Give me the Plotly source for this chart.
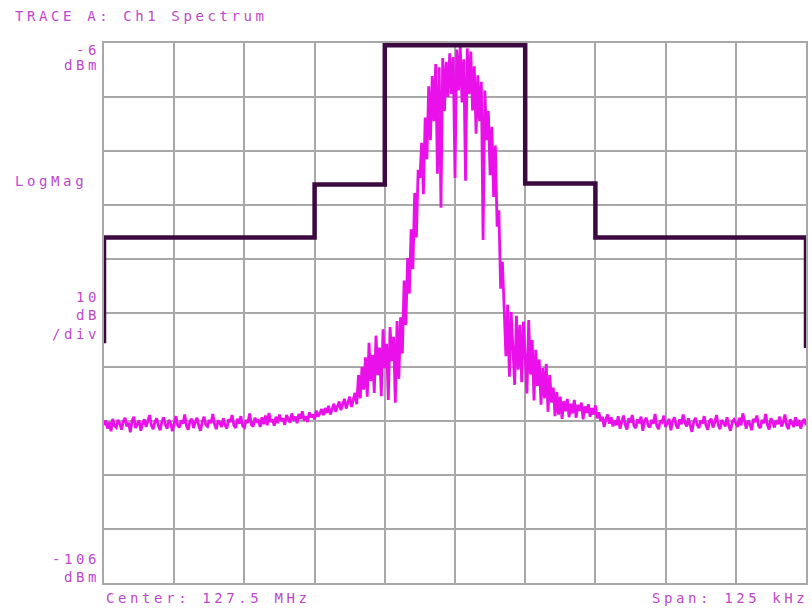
import numpy as np
import plotly.graph_objects as go

# ---------------- data ----------------
CENTER_MHZ = 127.5
SPAN_KHZ = 125.0
REF_LEVEL_DBM = -6
BOTTOM_LEVEL_DBM = -106
DB_PER_DIV = 10

# measured trace (dBm), 401 points across the span
floor_left = [
    -76.8, -75.9, -77.4, -76.2, -77.9, -75.6, -76.9, -77.2, -75.8, -76.5,
    -77.6, -76.1, -75.4, -77.0, -76.3, -78.1, -76.0, -75.2, -77.3, -76.6,
    -75.9, -77.8, -76.4, -75.7, -77.1, -76.0, -74.9, -76.8, -77.5, -76.2,
    -75.5, -76.9, -77.7, -76.1, -75.3, -76.7, -77.4, -75.8, -76.4, -77.9,
    -76.3, -75.1, -76.8, -77.2, -75.9, -76.5, -74.8, -76.9, -77.6, -76.0,
    -75.6, -77.3, -76.2, -75.4, -76.9, -77.8, -76.1, -75.2, -76.7, -77.0,
    -75.8, -76.4, -74.7, -76.6, -77.5, -75.9, -76.3, -77.1, -75.5, -76.8,
    -77.4, -75.7, -76.2, -74.9, -76.8, -77.3, -75.6, -76.5, -75.1, -76.9,
    -77.2, -75.8, -76.3, -74.6, -76.7, -77.0, -75.4, -76.1, -75.9, -77.1,
    -75.3, -76.6, -75.0, -76.8, -74.5, -76.2, -75.7, -76.9, -75.2, -76.4,
    -74.8, -76.0, -75.5, -76.7, -74.9, -75.8, -76.3, -74.6, -75.9, -75.2,
    -76.4, -74.7, -75.6, -74.2, -75.9, -75.1, -76.2, -74.4, -75.3, -74.8,
    -75.7, -74.1, -75.2, -74.6, -73.8,
]
rise_left = [
    -74.9, -73.6, -74.5, -73.2, -74.8, -73.9, -72.8, -74.3, -73.5, -72.4,
    -74.0, -73.1, -71.9, -73.7, -72.6, -71.5, -73.4, -72.2, -70.8, -72.9,
]
shoulder_left = [
    -67.5, -71.8, -66.0, -70.2, -64.2, -71.5, -61.5, -68.6, -63.8, -70.8,
    -60.2, -67.5, -62.4, -71.4, -59.0, -66.2, -61.7, -72.1, -58.6, -64.9,
    -60.4, -72.6, -57.5, -68.2, -56.8,
]
edge_left = [
    -63.5, -50.0, -58.2, -45.8, -52.4, -40.5, -47.9, -33.8, -42.0, -29.5,
]
main_lobe = [
    -31.0, -24.5, -34.0, -19.8, -27.5, -14.0, -24.0, -12.1, -20.5, -9.9,
    -30.2, -10.5, -36.5, -8.8, -18.6, -9.5, -16.0, -7.9, -15.5, -8.6,
    -31.0, -7.2, -14.8, -6.6, -17.0, -9.0, -31.5, -7.0, -15.5, -7.6,
    -18.5, -10.3, -22.8, -12.0, -20.5, -13.2, -42.5, -14.8, -24.0, -18.6,
    -30.5, -21.5, -34.5, -25.0, -40.0,
]
edge_right = [-37.0, -51.5, -46.5, -55.0, -64.0, -54.5]
shoulder_right = [
    -67.8, -55.8, -64.0, -69.3, -56.5, -66.5, -58.2, -68.8, -57.6, -65.0,
    -70.9, -57.3, -67.4, -61.0, -72.2, -62.8, -69.5, -64.6, -73.0, -66.2,
    -71.8, -65.4, -74.3, -67.5, -72.6, -69.8, -75.1, -70.6,
]
tail_right = [
    -74.8, -71.5, -75.6, -72.3, -74.2, -71.9, -75.3, -72.8, -74.6, -72.1,
    -75.4, -73.0, -74.1, -72.6, -75.7, -73.3, -74.5, -72.9, -75.2, -73.6,
    -74.8, -73.1, -75.5,
]
floor_right = [
    -74.4, -76.0, -75.2, -77.1, -75.6, -74.8, -76.5, -75.3, -77.0, -75.9,
    -76.8, -75.1, -77.4, -76.2, -75.0, -76.7, -77.6, -75.5, -76.3, -74.9,
    -76.9, -77.3, -75.7, -76.4, -75.2, -77.8, -76.0, -75.4, -76.8, -77.2,
    -75.8, -76.5, -74.7, -76.9, -77.5, -75.9, -76.2, -75.0, -77.1, -76.4,
    -75.6, -77.7, -76.1, -75.3, -76.8, -77.4, -75.7, -76.6, -74.8, -76.3,
    -77.0, -75.5, -76.9, -78.0, -76.2, -75.4, -76.7, -77.3, -75.9, -76.5,
    -75.1, -76.8, -77.6, -76.0, -75.6, -77.2, -76.3, -74.9, -76.7, -77.5,
    -75.8, -76.4, -77.0, -75.3, -76.9, -77.8, -76.1, -75.7, -76.6, -77.1,
    -75.4, -76.8, -74.6, -76.3, -77.4, -75.9, -76.5, -77.7, -75.6, -76.2,
    -75.0, -76.9, -77.3, -75.8, -76.4, -74.7, -76.7, -77.6, -75.5, -76.1,
    -77.2, -75.9, -76.6, -75.2, -77.0, -76.3, -74.8, -76.8, -77.5, -75.7,
    -76.4, -77.1, -75.3, -76.9, -75.8, -77.4, -76.2, -75.6, -76.8,
]
spectrum_dbm = (floor_left + rise_left + shoulder_left + edge_left + main_lobe
                + edge_right + shoulder_right + tail_right + floor_right)
freq_offset_khz = np.linspace(-SPAN_KHZ / 2, SPAN_KHZ / 2, len(spectrum_dbm))

# limit mask (frequency offset kHz, level dBm)
mask_freq_khz = [-62.5, -62.5, -25.0, -25.0, -12.5, -12.5, 12.5, 12.5, 25.0, 25.0, 62.5, 62.5]
mask_dbm = [-61.6, -42.0, -42.0, -32.2, -32.2, -6.4, -6.4, -32.0, -32.0, -42.0, -42.0, -62.5]

title_text = "TRACE A: Ch1 Spectrum"
ref_label = ["-6", "dBm"]
scale_label = ["10", "dB", "/div"]
bottom_label = ["-106", "dBm"]
format_label = "LogMag"
center_label = f"Center: {CENTER_MHZ} MHz"
span_label = f"Span: {SPAN_KHZ:g} kHz"

# ---------------- figure ----------------
W, H = 812, 613
ML, MR, MT, MB = 104, 4, 43, 30
PW, PH = W - ML - MR, H - MT - MB

TEXT_COLOR = "#bc48cc"
GRID_COLOR = "#a8a8a8"

fig = go.Figure()
fig.add_trace(go.Scatter(
    x=freq_offset_khz, y=spectrum_dbm, mode="lines",
    line=dict(color="rgb(234,16,234)", width=2.8),
    hoverinfo="skip", showlegend=False,
))
fig.add_trace(go.Scatter(
    x=mask_freq_khz, y=mask_dbm, mode="lines",
    line=dict(color="#3c0a40", width=4.5),
    hoverinfo="skip", showlegend=False, cliponaxis=False,
))


def px(x):
    return (x - ML) / PW


def py(y):
    return (H - MB - y) / PH


def label(text, x, y, anchor, size=14):
    fig.add_annotation(
        text=f'<span style="letter-spacing:3.6px">{text}</span>',
        x=px(x), y=py(y), xref="paper", yref="paper",
        xanchor=anchor, yanchor="middle", showarrow=False,
        font=dict(family="DejaVu Sans Mono", size=size, color=TEXT_COLOR),
    )


label(title_text, 13, 16, "left")
label(ref_label[0], 102, 50, "right")
label(ref_label[1], 102, 65, "right")
label(format_label, 13, 181, "left")
for txt, yy in zip(scale_label, [297, 315, 334]):
    label(txt, 102, yy, "right")
label(bottom_label[0], 102, 559, "right")
label(bottom_label[1], 102, 577, "right")
label(center_label, 104, 598, "left")
label(span_label, 812, 598, "right")

fig.update_xaxes(
    range=[-SPAN_KHZ / 2, SPAN_KHZ / 2], tick0=-SPAN_KHZ / 2, dtick=SPAN_KHZ / 10,
    showgrid=True, gridcolor=GRID_COLOR, gridwidth=2, zeroline=False,
    showticklabels=False, ticks="", showline=True, mirror=True,
    linecolor=GRID_COLOR, linewidth=2, fixedrange=True,
)
fig.update_yaxes(
    range=[BOTTOM_LEVEL_DBM, REF_LEVEL_DBM], tick0=REF_LEVEL_DBM, dtick=DB_PER_DIV,
    showgrid=True, gridcolor=GRID_COLOR, gridwidth=2, zeroline=False,
    showticklabels=False, ticks="", showline=True, mirror=True,
    linecolor=GRID_COLOR, linewidth=2, fixedrange=True,
)
fig.update_layout(
    width=W, height=H,
    margin=dict(l=ML, r=MR, t=MT, b=MB, pad=0),
    paper_bgcolor="white", plot_bgcolor="white",
    showlegend=False,
)
fig.write_html("out.html", config={"displayModeBar": False})
